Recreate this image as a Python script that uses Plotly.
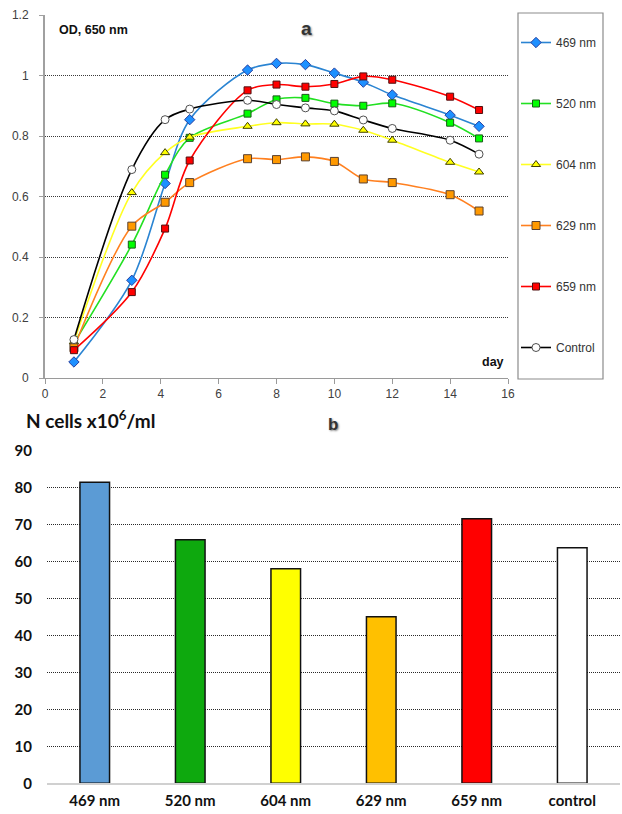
import plotly.graph_objects as go

W, H = 622, 814

# ---- panel a data ----
days = [1, 3, 4.15, 5, 7, 8, 9, 10, 11, 12, 14, 15]
od_469 = [0.053, 0.323, 0.643, 0.854, 1.018, 1.040, 1.036, 1.008, 0.978, 0.936, 0.869, 0.832]
od_520 = [0.115, 0.441, 0.672, 0.794, 0.874, 0.921, 0.926, 0.907, 0.900, 0.908, 0.844, 0.792]
od_604 = [0.120, 0.613, 0.745, 0.796, 0.832, 0.844, 0.840, 0.839, 0.819, 0.786, 0.713, 0.681]
od_629 = [0.100, 0.502, 0.581, 0.646, 0.725, 0.722, 0.731, 0.716, 0.658, 0.646, 0.606, 0.552]
od_659 = [0.092, 0.284, 0.494, 0.719, 0.951, 0.970, 0.963, 0.972, 0.997, 0.986, 0.930, 0.886]
od_ctrl = [0.127, 0.689, 0.854, 0.889, 0.918, 0.904, 0.893, 0.883, 0.853, 0.825, 0.786, 0.740]
series_names = ["469 nm", "520 nm", "604 nm", "629 nm", "659 nm", "Control"]

# ---- panel b data ----
bar_cats = ["469 nm", "520 nm", "604 nm", "629 nm", "659 nm", "control"]
bar_vals = [81.4, 65.8, 58.0, 45.0, 71.5, 63.7]
bar_colors = ["#5B9BD5", "#0EA90E", "#FFFF00", "#FFC000", "#FF0000", "#FFFFFF"]

styles = [
    dict(line="#2A84D2", fill="#1E90FF", edge="#2740A0", symbol="diamond", size=8),
    dict(line="#22E022", fill="#00FF00", edge="#1A5A1A", symbol="square", size=7),
    dict(line="#FFFF22", fill="#FFFF00", edge="#404000", symbol="triangle-up", size=8),
    dict(line="#FF8020", fill="#FF9900", edge="#5A4030", symbol="square", size=8),
    dict(line="#FF0000", fill="#FF0000", edge="#501010", symbol="square", size=7),
    dict(line="#000000", fill="#FFFFFF", edge="#505050", symbol="circle", size=8),
]

fig = go.Figure()
for name, ys, st in zip(series_names, [od_469, od_520, od_604, od_629, od_659, od_ctrl], styles):
    fig.add_trace(go.Scatter(
        x=days, y=ys, name=name, mode="lines+markers",
        line=dict(color=st["line"], width=1.6, shape="spline", smoothing=0.9),
        marker=dict(symbol=st["symbol"], size=st["size"], color=st["fill"],
                    line=dict(color=st["edge"], width=1)),
        legendgroup=name, xaxis="x", yaxis="y",
    ))

fig.add_trace(go.Bar(
    x=bar_cats, y=bar_vals, width=0.31,
    marker=dict(color=bar_colors, line=dict(color="#111111", width=1.5)),
    showlegend=False, xaxis="x2", yaxis="y2",
))

def px_x(p):
    return p / W

def px_y(p):
    return (H - p) / H

tick_font = dict(family="Arial, Liberation Sans", size=12, color="#404040")
bfont = dict(family="Lato, Open Sans", size=15, color="#111111", weight="bold")

fig.update_layout(
    width=W, height=H, autosize=False,
    margin=dict(l=0, r=0, t=0, b=0, pad=0, autoexpand=False),
    paper_bgcolor="white", plot_bgcolor="white",
    xaxis=dict(domain=[px_x(45), px_x(508)], range=[0, 16], dtick=2,
               showgrid=False, zeroline=False, showline=True, linecolor="#9A9A9A",
               linewidth=1, ticks="outside", ticklen=5, tickcolor="#9A9A9A",
               tickfont=tick_font, anchor="y", automargin=False),
    yaxis=dict(domain=[px_y(378), px_y(15)], range=[0, 1.2], dtick=0.2,
               showgrid=True, gridcolor="#3A3A3A", griddash="1px,1px", gridwidth=1,
               zeroline=False, showline=True, linecolor="#A0A0A0", linewidth=2,
               ticks="outside", ticklen=4, tickcolor="#A0A0A0",
               tickfont=tick_font, anchor="x", ticklabelstandoff=8, automargin=False),
    xaxis2=dict(domain=[px_x(47), px_x(620)], range=[-0.5, 5.5],
                showgrid=False, zeroline=False, showline=True, linecolor="#D0D0D0",
                linewidth=1.5, ticks="", tickfont=bfont, anchor="y2",
                ticklabelstandoff=3, automargin=False),
    yaxis2=dict(domain=[px_y(783.3), px_y(449.6)], range=[0, 90.2], dtick=10,
                showgrid=True, gridcolor="#2A2A2A", griddash="1px,1px", gridwidth=1,
                zeroline=False, showline=False, ticks="",
                tickfont=bfont, anchor="x2", ticklabelstandoff=14, automargin=False),
    showlegend=True,
    legend=dict(x=px_x(516), y=px_y(28), xanchor="left", yanchor="top",
                bgcolor="rgba(0,0,0,0)", borderwidth=0,
                font=dict(family="Arial, Liberation Sans", size=12, color="#333333"),
                tracegroupgap=42, itemwidth=30),
    shapes=[dict(type="rect", xref="paper", yref="paper",
                 x0=px_x(518), x1=px_x(603), y0=px_y(379), y1=px_y(13),
                 line=dict(color="#8C8C8C", width=1.2), fillcolor="rgba(0,0,0,0)")],
    annotations=[
        dict(text="<b>OD, 650 nm</b>", xref="paper", yref="paper",
             x=px_x(57), y=px_y(30), xanchor="left", yanchor="middle", showarrow=False,
             font=dict(family="Arial, Liberation Sans", size=12.5, color="#111111")),
        dict(text="<b>a</b>", xref="paper", yref="paper",
             x=px_x(306), y=px_y(29), xanchor="center", yanchor="middle", showarrow=False,
             font=dict(family="Arial, Liberation Sans", size=19, color="#333333",
                       shadow="1px 1px 2px #888888")),
        dict(text="<b>day</b>", xref="paper", yref="paper",
             x=px_x(506), y=px_y(362), xanchor="right", yanchor="middle", showarrow=False,
             font=dict(family="Arial, Liberation Sans", size=12.5, color="#111111")),
        dict(text="<b>N cells x10<sup>6</sup>/ml</b>", xref="paper", yref="paper",
             x=px_x(24), y=px_y(419), xanchor="left", yanchor="middle", showarrow=False,
             font=dict(family="Lato, Open Sans", size=19, color="#111111")),
        dict(text="<b>b</b>", xref="paper", yref="paper",
             x=px_x(333), y=px_y(424), xanchor="center", yanchor="middle", showarrow=False,
             font=dict(family="Arial, Liberation Sans", size=17, color="#333333",
                       shadow="1px 1px 2px #888888")),
    ],
)

fig.write_html("out.html", config={"displayModeBar": False},
               post_script="document.body.style.margin='0';document.body.style.padding='0';")
